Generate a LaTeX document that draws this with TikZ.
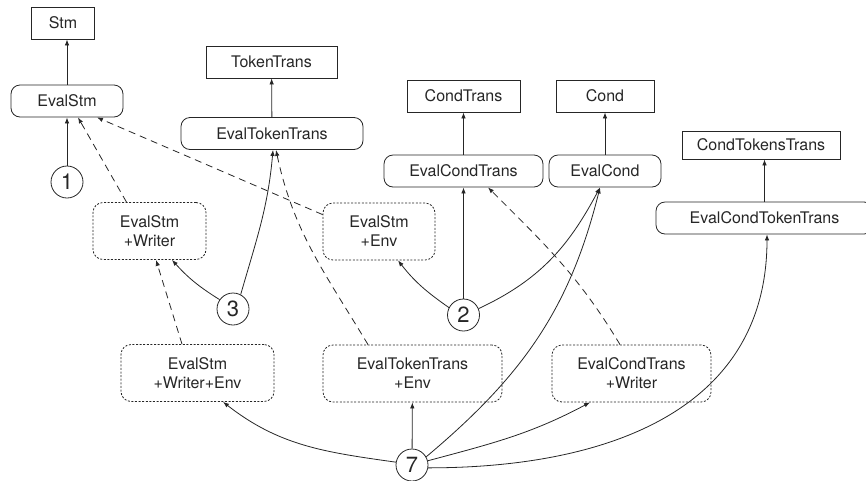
\documentclass[tikz,border=0pt]{standalone}
\usepackage{fontspec}
\setmainfont{TeX Gyre Heros}
\usetikzlibrary{arrows.meta,calc,positioning}

\begin{document}
\begin{tikzpicture}[x=1pt,y=1pt,
        font=\fontsize{16}{19}\selectfont,
        every node/.style={text=black!85, draw=black!85, line width=0.8},
        plain/.style={draw, minimum height=32, inner sep=0},
        eval/.style={draw, rounded corners=9, minimum height=32, inner sep=0},
        combo/.style={draw, dash pattern=on 2pt off 1.6pt, rounded corners=10,
            minimum height=57, align=center, inner sep=0},
        num/.style={draw, circle, minimum size=32, inner sep=0,
            font=\fontsize{22}{22}\selectfont},
        link/.style={draw=black!85, line width=0.8, -{Latex[length=6,width=4.5]}},
        dep/.style={link, dash pattern=on 7pt off 5pt}]
    \useasboundingbox (0,0) rectangle (866,-480);

    \node[plain, minimum width=63] (stm) at (63,-23) {Stm};
    \node[eval, minimum width=112] (es) at (67,-101) {EvalStm};
    \node[plain, minimum width=131] (tt) at (271.5,-62) {TokenTrans};
    \node[eval, minimum width=182] (ett) at (272,-133.5) {EvalTokenTrans};
    \node[plain, minimum width=113] (ct) at (463.5,-96) {CondTrans};
    \node[plain, minimum width=98] (cond) at (605,-96) {Cond};
    \node[eval, minimum width=112] (ec) at (605,-171) {EvalCond};
    \node[eval, minimum width=159] (ect) at (463.5,-171) {EvalCondTrans};
    \node[plain, minimum width=158, minimum height=28] (ctt) at (761,-145) {CondTokensTrans};
    \node[eval, minimum width=217] (ectt) at (764.5,-218) {EvalCondTokenTrans};

    \node[combo, minimum width=113] (esw) at (149.5,-231) {EvalStm\\+Writer};
    \node[combo, minimum width=112] (ese) at (379,-231.5) {EvalStm\\+Env};
    \node[combo, minimum width=153] (eswe) at (197.5,-373) {EvalStm\\+Writer+Env};
    \node[combo, minimum width=179] (ette) at (412.5,-373.5) {EvalTokenTrans\\+Env};
    \node[combo, minimum width=159] (ecw) at (631.5,-373.5) {EvalCondTrans\\+Writer};

    \node[num] (c1) at (67,-182) {1};
    \node[num] (c3) at (233,-309) {3};
    \node[num] (c2) at (463.5,-315) {2};
    \node[num] (c7) at (412,-465) {7};

    \draw[link] (es.north) -- (es.north |- stm.south);
    \draw[link] (ett) -- (tt);
    \draw[link] (ect) -- (ct);
    \draw[link] (ec) -- (cond);
    \draw[link] (ectt.north) -- (ectt.north |- ctt.south);

    \draw[link] (c1) -- (es);
    \draw[link] (c3.145) to[out=148,in=-48] ($(esw.south)+(22.5,0)$);
    \draw[link] (c3.62) to[out=74,in=-95] ($(ett.south)+(1,0)$);
    \draw[link] (c2.153) to[out=145,in=-52] ($(ese.south)+(19,0)$);
    \draw[link] (c2) -- (ect);
    \draw[link] (c2.23) to[out=25,in=-118] ($(ec.south)+(-5,0)$);
    \draw[link] (c7.170) to[out=172,in=-38] ($(eswe.south)+(25.5,0)$);
    \draw[link] (c7) -- (ette);
    \draw[link] (c7.30) to[out=40,in=-104] ($(ec.south)+(-5,0)$);
    \draw[link] (c7.15) to[out=15,in=-152] ($(ecw.south)+(-41.5,0)$);
    \draw[link] (c7.-10) to[out=0,in=-90,looseness=1.1] ($(ectt.south)+(2.5,0)$);

    \draw[dep] ($(esw.north)+(-23,0)$) -- ($(es.south)+(11,0)$);
    \draw[dep] ($(ese.north west)+(0,-12)$) -- ($(es.south)+(30,0)$);
    \draw[dep] ($(eswe.north)+(-15.5,0)$) -- ($(esw.south)+(6.5,0)$);
    \draw[dep] ($(ette.north)+(-44.5,0)$) to[out=121,in=-78] ($(ett.south)+(4,0)$);
    \draw[dep] ($(ecw.north)+(-11.5,0)$) to[out=121,in=-45] ($(ect.south)+(24.5,0)$);
\end{tikzpicture}
\end{document}
